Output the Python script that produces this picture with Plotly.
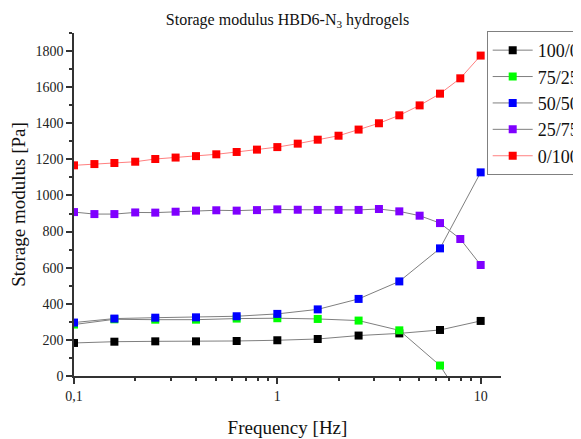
import plotly.graph_objects as go

# Frequency points (Hz)
freq_dense = [0.1, 0.126, 0.158, 0.2, 0.251, 0.316, 0.398, 0.501, 0.631, 0.794,
              1.0, 1.26, 1.58, 2.0, 2.51, 3.16, 3.98, 5.01, 6.31, 7.94, 10.0]
freq_sparse = [0.1, 0.158, 0.251, 0.398, 0.631, 1.0, 1.58, 2.51, 3.98, 6.31, 10.0]

# Storage modulus (Pa)
g_100_0 = [183, 190, 192, 192, 194, 198, 205, 224, 236, 255, 305]
g_75_25 = [285, 314, 312, 312, 318, 320, 316, 307, 253, 58, -290]
g_50_50 = [296, 318, 323, 325, 331, 344, 369, 427, 524, 707, 1128]
g_25_75 = [908, 897, 897, 906, 905, 910, 916, 918, 916, 919, 923, 921, 920, 920,
           920, 925, 912, 888, 847, 759, 615]
g_0_100 = [1167, 1174, 1180, 1187, 1202, 1210, 1218, 1228, 1241, 1254, 1268, 1287,
           1309, 1331, 1365, 1400, 1444, 1499, 1564, 1649, 1775]

series = [
    ("100/0", freq_sparse, g_100_0, "#000000", "#7f7f7f"),
    ("75/25", freq_sparse, g_75_25, "#00ff00", "#7f7f7f"),
    ("50/50", freq_sparse, g_50_50, "#0000ff", "#7f7f7f"),
    ("25/75", freq_dense, g_25_75, "#7f00ff", "#7f7f7f"),
    ("0/100", freq_dense, g_0_100, "#ff0000", "#ff8080"),
]

x_tickvals = [0.1, 1, 10]
x_ticktext = ["0,1", "1", "10"]
x_minor = [0.2, 0.3, 0.4, 0.5, 0.6, 0.7, 0.8, 0.9, 2, 3, 4, 5, 6, 7, 8, 9]

FONT = "Liberation Serif"

# The page has an 8px body margin; the figure is made wider than the window
# so that the legend box runs off the right edge, as in the reference.
W, H = 600, 431
L, T, B = 66, 25, 63
R = W - 493

fig = go.Figure()
for name, xs, ys, mcol, lcol in series:
    fig.add_trace(go.Scatter(
        x=xs, y=ys, name=name, mode="lines+markers",
        line=dict(color=lcol, width=1),
        marker=dict(symbol="square", size=8, color=mcol, line=dict(width=0)),
    ))

fig.update_layout(
    width=W, height=H,
    margin=dict(l=L, r=R, t=T, b=B),
    paper_bgcolor="white", plot_bgcolor="white",
    font=dict(family=FONT, color="#222222"),
    title=dict(text="Storage modulus HBD6-N<sub>3</sub> hydrogels",
               x=279.5 / W, xanchor="center", y=1 - 11 / H, yanchor="middle",
               font=dict(family=FONT, size=16, color="#111111"), automargin=False),
    showlegend=True,
    legend=dict(x=0.9665, xanchor="left", y=1.006, yanchor="top",
                bgcolor="white", bordercolor="#808080", borderwidth=1,
                font=dict(family=FONT, size=18, color="#111111"),
                itemsizing="trace", itemwidth=40),
)

fig.update_xaxes(
    type="log", range=[-1, 1.1], automargin=False,
    tickmode="array", tickvals=x_tickvals, ticktext=x_ticktext,
    ticks="outside", ticklen=6, tickwidth=1.5, tickcolor="#333333",
    minor=dict(tickmode="array", tickvals=x_minor, ticks="outside", ticklen=3,
               tickwidth=1.5, tickcolor="#333333", showgrid=False),
    showline=True, linecolor="#333333", linewidth=1.5,
    showgrid=False, zeroline=False,
    tickfont=dict(family=FONT, size=14, color="#222222"),
    title=dict(text="Frequency [Hz]", font=dict(family=FONT, size=19, color="#111111"),
               standoff=18),
)
fig.update_yaxes(
    range=[0, 1900], dtick=200, tick0=0, automargin=False,
    ticks="outside", ticklen=6, tickwidth=1.5, tickcolor="#333333",
    minor=dict(dtick=100, ticks="outside", ticklen=3, tickwidth=1.5,
               tickcolor="#333333", showgrid=False),
    showline=True, linecolor="#333333", linewidth=1.5,
    showgrid=False, zeroline=False,
    tickfont=dict(family=FONT, size=14, color="#222222"),
    title=dict(text="Storage modulus [Pa]", font=dict(family=FONT, size=19, color="#111111"),
               standoff=5),
)

fig.write_html(
    "out.html",
    post_script="document.documentElement.style.overflow='hidden';",
)
